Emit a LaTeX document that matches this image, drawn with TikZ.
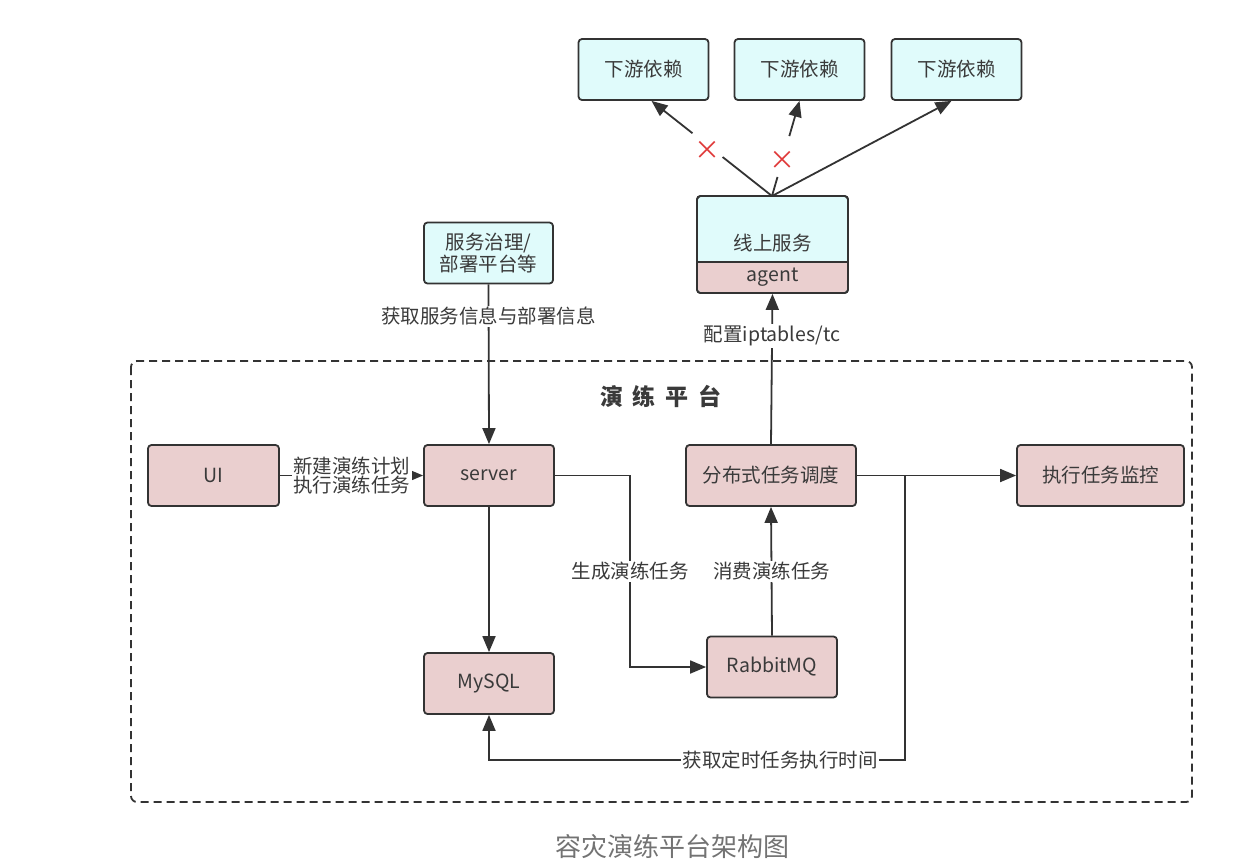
\documentclass[tikz,border=0pt]{standalone}
\usepackage{fontspec}
\setmainfont{Noto Sans CJK SC}
\usetikzlibrary{arrows.meta,calc}
\definecolor{pinkfill}{HTML}{EACFCF}
\definecolor{cyanfill}{HTML}{E0FBFB}
\definecolor{linec}{HTML}{333333}
\definecolor{txt}{HTML}{3A3A3A}
\definecolor{crossred}{HTML}{E03A3A}
\begin{document}
\begin{tikzpicture}[x=1pt,y=-1pt,
  box/.style={draw=linec, line width=1.8pt, rounded corners=3.5pt, minimum width=130pt, minimum height=61pt, inner sep=0pt, text=txt, font=\fontsize{19.5}{23}\selectfont},
  pinkbox/.style={box, fill=pinkfill},
  cyanbox/.style={box, fill=cyanfill},
  conn/.style={draw=linec, line width=1.8pt},
  arr/.style={conn, -{Triangle[length=16pt,width=13pt]}},
  lbl/.style={fill=white, text=txt, inner sep=1.5pt, font=\fontsize{19.5}{23}\selectfont, align=center},
  xmark/.style={text=crossred, font=\fontsize{26}{26}\selectfont, inner sep=0pt}
]
\useasboundingbox (0,0) rectangle (1248,860);
\fill[white] (0,0) rectangle (1248,860);

% dashed platform frame
\draw[linec, line width=1.8pt, dash pattern=on 8pt off 5pt, rounded corners=6pt] (131,361) rectangle (1192,802);
\node[text=txt, font=\bfseries\fontsize{23}{25}\selectfont] (title) at (661,396) {演\hspace{10pt}练\hspace{10pt}平\hspace{10pt}台};

% downstream dependencies
\node[cyanbox] (d1) at (643.5,69.5) {下游依赖};
\node[cyanbox] (d2) at (799.5,69.5) {下游依赖};
\node[cyanbox] (d3) at (956.5,69.5) {下游依赖};

% online service with agent
\node[box, fill=cyanfill, minimum width=151pt, minimum height=97pt] (svc) at (772.5,244.5) {};
\fill[pinkfill, rounded corners=3.5pt] (697.9,262) -- (697.9,292.1) -- (847.1,292.1) -- (847.1,262) -- cycle;
\fill[pinkfill] (697.9,262) rectangle (847.1,280);
\draw[linec, line width=1.8pt, rounded corners=3.5pt] (697,196) rectangle (848,293);
\draw[linec, line width=1.8pt] (697,262) -- (848,262);
\node[text=txt, font=\fontsize{19.5}{23}\selectfont] (svctext) at (772.5,243) {线上服务};
\node[text=txt, font=\fontsize{19.5}{23}\selectfont] (agent) at (772.5,277.5) {agent};

% service governance
\node[cyanbox, minimum width=129pt, align=center, font=\fontsize{19.5}{21.5}\selectfont] (gov) at (488.5,253) {服务治理/\\部署平台等};

% platform nodes
\node[pinkbox, minimum width=131pt] (ui) at (213.5,475.5) {UI};
\node[pinkbox] (server) at (489,475.5) {server};
\node[pinkbox, minimum width=170pt] (sched) at (771,475.5) {分布式任务调度};
\node[pinkbox, minimum width=167pt] (mon) at (1100.5,475.5) {执行任务监控};
\node[pinkbox] (mysql) at (489,683.5) {MySQL};
\node[pinkbox] (mq) at (772,667) {RabbitMQ};

% connectors
\draw[arr] (gov.south) -- node[lbl, pos=0.2] (l1) {获取服务信息与部署信息} (server.north);
\draw[arr] (ui.east) -- node[lbl, pos=0.5] (l2) {新建演练计划\\[-4pt]执行演练任务} (server.west);
\draw[arr] (server.south) -- (mysql.north);
\coordinate (c1) at (630,475.5);
\coordinate (c2) at (630,667);
\draw[arr] (server.east) -- (c1) -- node[lbl, pos=0.5] (l3) {生成演练任务} (c2) -- (mq.west);
\draw[arr] (mq.north) -- node[lbl, pos=0.5] (l4) {消费演练任务} (sched.south);
\draw[arr] (sched.north) -- node[lbl, pos=0.72] (l5) {配置iptables/tc} (svc.south);
\draw[arr] (sched.east) -- (mon.west);
\coordinate (c3) at (905,475.5);
\coordinate (c4) at (905,760);
\coordinate (c5) at (489,760);
\draw[arr] (c3) -- (c4) -- node[lbl, pos=0.3] (l6) {获取定时任务执行时间} (c5) -- (mysql.south);

% online service to downstream
\coordinate (s) at (772,196);
\coordinate (t1) at ([xshift=8pt]d1.south);
\coordinate (t2) at ([xshift=0pt]d2.south);
\coordinate (t3) at ([xshift=-5pt]d3.south);
\draw[conn] (s) -- ($(s)!0.41!(t1)$);
\draw[arr] ($(s)!0.66!(t1)$) -- (t1);
\node[xmark] (x1) at ($(s)!0.535!(t1)+(0,5)$) {×};
\draw[conn] (s) -- ($(s)!0.2!(t2)$);
\draw[arr] ($(s)!0.63!(t2)$) -- (t2);
\node[xmark] (x2) at ($(s)!0.375!(t2)$) {×};
\draw[arr] (s) -- (t3);

% caption
\node[text=black!55, font=\fontsize{26}{28}\selectfont] (cap) at (672,847) {容灾演练平台架构图};
\end{tikzpicture}
\end{document}
